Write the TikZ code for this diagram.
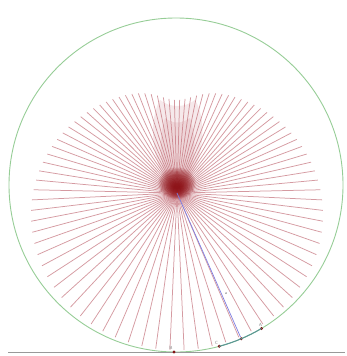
\documentclass[tikz,border=0pt]{standalone}
\usetikzlibrary{calc}
\definecolor{raycol}{RGB}{190,100,110}
\definecolor{circcol}{RGB}{150,205,150}
\definecolor{bluecol}{RGB}{125,125,225}
\definecolor{arccol}{RGB}{90,150,150}
\definecolor{dotcol}{RGB}{130,20,20}
\definecolor{blobcol}{RGB}{135,5,10}
\begin{document}
\begin{tikzpicture}[x=1pt,y=-1pt,
  ray/.style={raycol, line width=0.75pt, opacity=0.65},
  rim/.style={circcol, line width=0.9pt},
  pt/.style={circle, fill=dotcol, inner sep=0pt, minimum size=3.2pt},
  lab/.style={text=gray, font=\fontsize{4.5}{5}\selectfont\sffamily, inner sep=0pt}]
\useasboundingbox (0,0) rectangle (346,356);
\coordinate (O) at (176,185);
\coordinate (F) at (177,193);
% faint smudge above the focus
\fill[raycol, opacity=0.14] (F) .. controls (150,170) and (148,120) .. (160,100)
  .. controls (170,108) and (185,108) .. (195,100)
  .. controls (208,120) and (205,170) .. (F);
\fill[raycol, opacity=0.14] (F) .. controls (158,175) and (158,140) .. (165,118)
  .. controls (172,124) and (182,124) .. (190,118)
  .. controls (198,140) and (196,175) .. (F);
% rays
\foreach \t in {0,4,...,356}{
  \pgfmathsetmacro{\dxv}{cos(\t)}
  \pgfmathsetmacro{\dyv}{sin(\t)-0.23}
  \pgfmathsetmacro{\lenv}{sqrt(\dxv*\dxv+\dyv*\dyv)}
  \pgfmathsetmacro{\ccv}{min(1,max(-1,-\dyv/\lenv))}
  \pgfmathsetmacro{\rrv}{137.5-26*\ccv-6.5*(2*\ccv*\ccv-1)-12*exp(-(acos(\ccv)/15)^2)}
  \draw[ray] (F) -- ++({\rrv*\dxv/\lenv},{\rrv*\dyv/\lenv});
}
% dark blob at the focus (smooth layered gradient)
\foreach \k in {1,...,12}{
  \pgfmathsetmacro{\ax}{20-1.4*\k}
  \pgfmathsetmacro{\ay}{17-1.2*\k}
  \fill[blobcol, opacity=0.14] (177,{183+0.3*\k}) ellipse ({\ax} and {\ay});
}
% circle
\draw[rim] (O) circle (167);
% bottom rule
\coordinate (L1) at (8,352.5);
\coordinate (L2) at (345,352.5);
\draw[gray!80, line width=1pt] (L1) -- (L2);
% points on circle
\node[pt] (B) at ($(O)+(90.7:167)$) {};
\node[pt] (C) at ($(O)+(75:167)$) {};
\node[pt] (D) at ($(O)+(67:167)$) {};
\node[pt] (A) at ($(O)+(59.2:167)$) {};
\draw[arccol, line width=1pt] (O) ++(75:167) arc (75:59.2:167);
\draw[bluecol, line width=0.7pt] (F) -- (D);
\node[lab] at (171,348) {B};
\node[lab] at (216.5,342.5) {C};
\node[lab] at (260.5,324.5) {A};
\node[lab] at (226,293) {a};
\end{tikzpicture}
\end{document}
